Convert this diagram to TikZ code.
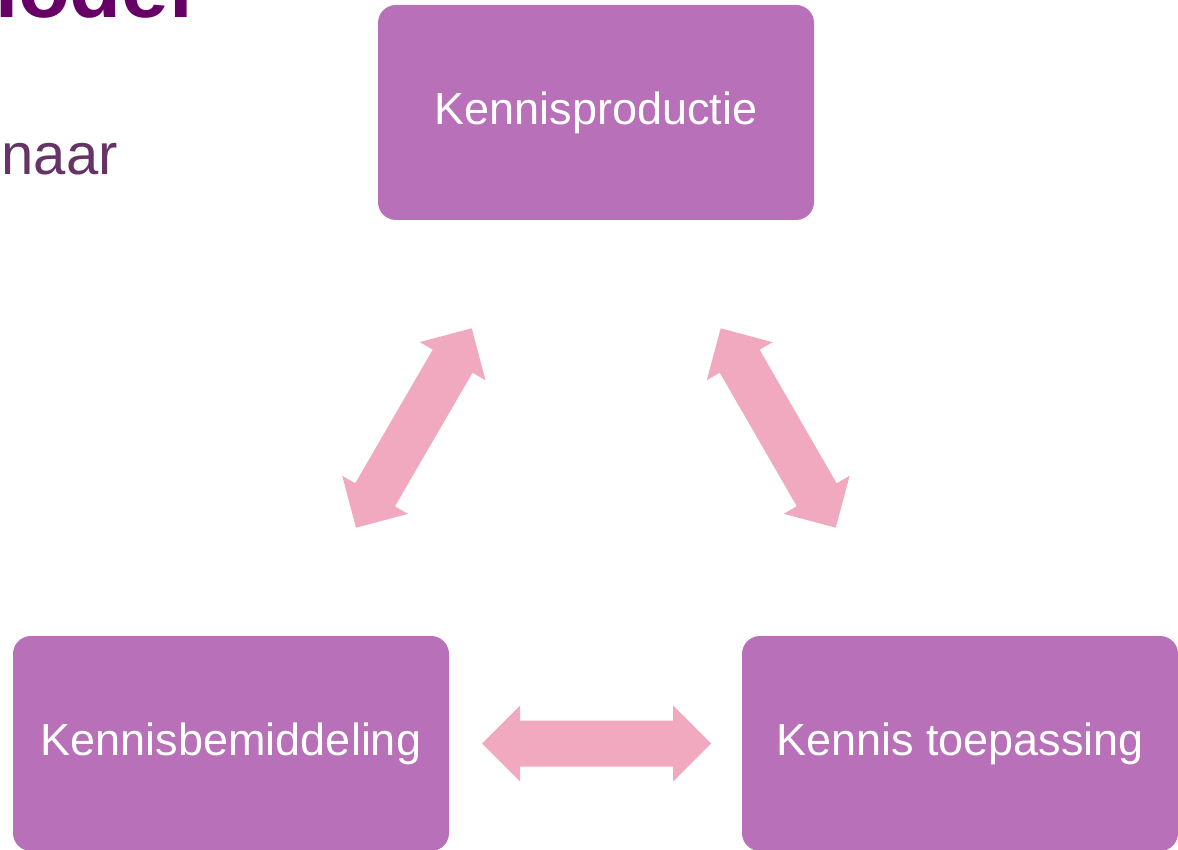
\documentclass[tikz,border=0pt]{standalone}
\usepackage{fontspec}
\setmainfont{Liberation Sans}
\usetikzlibrary{calc}
\definecolor{boxfill}{RGB}{184,112,184}
\definecolor{arrowfill}{RGB}{240,169,191}
\definecolor{titlecol}{RGB}{102,0,102}
\definecolor{subcol}{RGB}{102,51,102}
% fat double-headed arrow between two named tip points
\newcommand\fatarrow[2]{%
  \path ($(#1)!38pt!(#2)$) coordinate (#1-#2-a)
        ($(#2)!38pt!(#1)$) coordinate (#1-#2-b);
  \fill[fatarrowstyle] (#1)
   -- ($(#1-#2-a)!38pt!90:(#2)$) -- ($(#1-#2-a)!23pt!90:(#2)$)
   -- ($(#1-#2-b)!23pt!-90:(#1)$) -- ($(#1-#2-b)!38pt!-90:(#1)$)
   -- (#2)
   -- ($(#1-#2-b)!38pt!90:(#1)$) -- ($(#1-#2-b)!23pt!90:(#1)$)
   -- ($(#1-#2-a)!23pt!-90:(#2)$) -- ($(#1-#2-a)!38pt!-90:(#2)$)
   -- cycle;}
\begin{document}
\begin{tikzpicture}[x=1pt,y=-1pt,
  box/.style={fill=boxfill, draw=none, rounded corners=18pt,
    minimum width=436pt, minimum height=215pt, inner sep=0pt,
    text=white, font=\fontsize{45}{54}\selectfont},
  fatarrowstyle/.style={fill=arrowfill, draw=none},
  titletext/.style={anchor=base east, inner sep=0pt, text=titlecol,
    font=\bfseries\fontsize{85}{100}\selectfont},
  subtext/.style={anchor=base east, inner sep=0pt, text=subcol,
    font=\fontsize{58}{70}\selectfont}]
\useasboundingbox (0,0) rectangle (1178,850);

\node[titletext] (title) at (193,18) {model};
\node[subtext] (sub) at (118,175) {naar};

\node[box] (prod)  at (596,112.5) {Kennisproductie};
\node[box] (bemid) at (231,743.5) {Kennisbemiddeling};
\node[box] (toep)  at (960,743.5) {Kennis toepassing};

\coordinate (l1) at (356,527.7);
\coordinate (l2) at (471.7,328.3);
\coordinate (r1) at (720.7,328.3);
\coordinate (r2) at (835.7,527.7);
\coordinate (h1) at (482,743.5);
\coordinate (h2) at (711,743.5);

\fatarrow{l1}{l2}
\fatarrow{r1}{r2}
\fatarrow{h1}{h2}
\end{tikzpicture}
\end{document}
